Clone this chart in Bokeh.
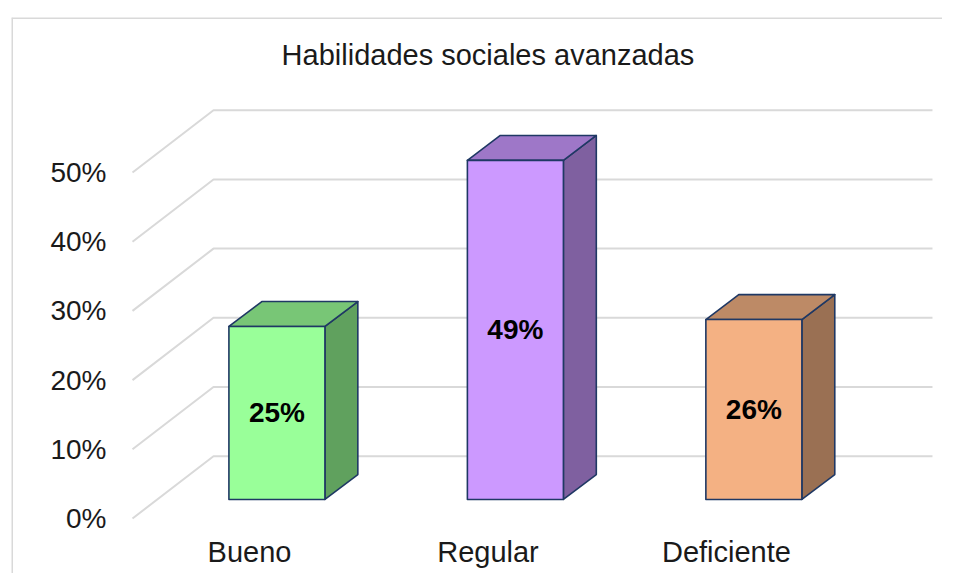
from bokeh.plotting import figure
from bokeh.models import Range1d, ColumnDataSource, Span
from bokeh.core.properties import value
from bokeh.embed import file_html
from bokeh.resources import INLINE

# ---- data ----
categories = ["Bueno", "Regular", "Deficiente"]
values = [25, 49, 26]
value_labels = ["25%", "49%", "26%"]
tick_values = [0, 10, 20, 30, 40, 50]
tick_labels = ["0%", "10%", "20%", "30%", "40%", "50%"]
title_text = "Habilidades sociales avanzadas"

front_colors = ["#99FF99", "#CC99FF", "#F4B183"]
top_colors = ["#78C676", "#9E77C8", "#BD8A66"]
side_colors = ["#60A15E", "#7F60A0", "#9A7053"]
edge_color = "#1F3864"
grid_color = "#D9D9D9"
FONT = "Liberation Sans"

# ---- 3D projection constants (data units) ----
WALL_DX, WALL_DY = 0.3396, 9.0      # depth of floor / back wall
AXIS_X = -0.4906                     # front left corner of the floor
BACK_END = 2.864                     # right end of back wall
BAR_OFF_X, BAR_BASE = 0.115, 2.75    # front plane of bars
BAR_HALF = 0.2013
BAR_DX, BAR_DY = 0.138, 3.6          # bar depth

p = figure(width=942, height=573, output_backend="svg", toolbar_location=None,
           x_range=Range1d(-0.998, 2.906), y_range=Range1d(-7.95, 72.4),
           x_axis_location=None, y_axis_location=None,
           min_border_left=11, min_border_right=0, min_border_top=17, min_border_bottom=0)
p.grid.visible = False
p.outline_line_color = None
p.background_fill_color = "white"
p.border_fill_color = "white"

# chart border (left and top visible)
p.add_layout(Span(location=p.x_range.start, dimension="height", line_color=grid_color, line_width=3))
p.add_layout(Span(location=p.y_range.end, dimension="width", line_color=grid_color, line_width=3))

# gridlines: diagonal on left wall + horizontal on back wall
gx, gy = [], []
for t in tick_values:
    gx.append([AXIS_X, AXIS_X + WALL_DX, BACK_END])
    gy.append([t, t + WALL_DY, t + WALL_DY])
p.multi_line(gx, gy, line_color=grid_color, line_width=2)

# bars
front_xs, front_ys, top_xs, top_ys, side_xs, side_ys = [], [], [], [], [], []
lx, ly = [], []
for i, v in enumerate(values):
    xl = i + BAR_OFF_X - BAR_HALF
    xr = i + BAR_OFF_X + BAR_HALF
    yb = BAR_BASE
    yt = BAR_BASE + v
    front_xs.append([xl, xr, xr, xl]); front_ys.append([yb, yb, yt, yt])
    top_xs.append([xl, xl + BAR_DX, xr + BAR_DX, xr]); top_ys.append([yt, yt + BAR_DY, yt + BAR_DY, yt])
    side_xs.append([xr, xr + BAR_DX, xr + BAR_DX, xr]); side_ys.append([yb, yb + BAR_DY, yt + BAR_DY, yt])
    lx.append(i + BAR_OFF_X); ly.append((yb + yt) / 2)

for xs, ys, cols in [(side_xs, side_ys, side_colors), (top_xs, top_ys, top_colors),
                     (front_xs, front_ys, front_colors)]:
    src = ColumnDataSource(dict(xs=xs, ys=ys, c=cols))
    p.patches("xs", "ys", source=src, fill_color="c", line_color=edge_color,
              line_width=1.6, line_join="round")

# value labels
p.text(x=lx, y=ly, text=value_labels, text_font=value(FONT), text_font_size=value("28px"),
       text_font_style="bold", text_align="center", text_baseline="middle", text_color="black")

# y tick labels
p.text(x=[-0.5996] * len(tick_values), y=tick_values, text=tick_labels, text_font=value(FONT),
       text_font_size=value("28px"), text_align="right", text_baseline="middle", text_color="#1a1a1a")

# category labels
p.text(x=list(range(len(categories))), y=[-4.84] * len(categories), text=categories,
       text_font=value(FONT), text_font_size=value("29px"), text_align="center",
       text_baseline="middle", text_color="#1a1a1a")

# title
p.text(x=[1.0], y=[67.05], text=[title_text], text_font=value(FONT), text_font_size=value("29px"),
       text_align="center", text_baseline="middle", text_color="#1a1a1a")

open("out.html", "w").write(file_html(p, INLINE))
